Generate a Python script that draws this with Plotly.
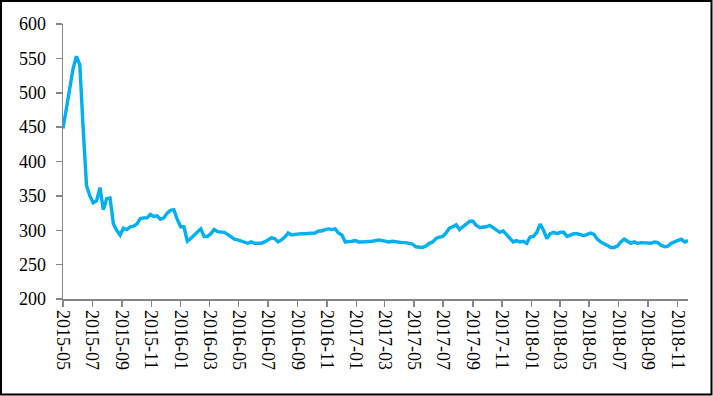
import pandas as pd
import plotly.graph_objects as go

# Weekly series starting 2015-05-01
start_date = "2015-05-01"
values = [
    448, 475, 503, 535, 553, 541, 448, 365, 350, 340,
    343, 362, 330, 346, 347, 309, 300, 293, 303, 301,
    305, 306, 309, 317, 318, 318, 323, 320, 321, 316,
    318, 325, 329, 330, 316, 305, 305, 284, 288, 293,
    298, 302, 291, 291, 295, 301, 298, 297, 297, 294,
    290, 287, 286, 284, 282, 281, 283, 281, 281, 281,
    283, 286, 289, 288, 283, 286, 290, 296, 293, 294,
    295, 295, 295, 295, 295, 296, 299, 299, 301, 302,
    301, 302, 296, 293, 283, 283, 284, 285, 283, 283,
    283, 283, 284, 285, 286, 285, 284, 283, 284, 283,
    283, 282, 282, 281, 280, 276, 275, 275, 277, 281,
    283, 288, 290, 291, 296, 303, 305, 308, 301, 305,
    309, 313, 313, 307, 304, 304, 305, 307, 304, 301,
    297, 299, 294, 288, 283, 285, 283, 284, 281, 290,
    291, 297, 309, 300, 288, 295, 297, 295, 297, 297,
    291, 293, 295, 295, 294, 292, 294, 296, 294, 287,
    283, 281, 278, 275, 275, 277, 283, 287, 284, 281,
    283, 281, 282, 282, 281, 281, 283, 282, 278, 276,
    277, 281, 283, 285, 287, 283, 285,
]
tick_dates = [
    "2015-05-01", "2015-07-01", "2015-09-01", "2015-11-01",
    "2016-01-01", "2016-03-01", "2016-05-01", "2016-07-01",
    "2016-09-01", "2016-11-01", "2017-01-01", "2017-03-01",
    "2017-05-01", "2017-07-01", "2017-09-01", "2017-11-01",
    "2018-01-01", "2018-03-01", "2018-05-01", "2018-07-01",
    "2018-09-01", "2018-11-01",
]
tick_labels = [d[:7] for d in tick_dates]
y_ticks = [200, 250, 300, 350, 400, 450, 500, 550, 600]

dates = pd.date_range(start=start_date, periods=len(values), freq="7D")

fig = go.Figure()
fig.add_trace(go.Scatter(
    x=dates, y=values, mode="lines",
    line=dict(color="#00B0F0", width=3.4),
    showlegend=False, hoverinfo="skip",
))

W, H = 713, 396
ml, mr, mt, mb = 63, 25, 24, 97
pw, ph = W - ml - mr, H - mt - mb

fig.update_layout(
    width=W, height=H,
    margin=dict(l=ml, r=mr, t=mt, b=mb, pad=0),
    paper_bgcolor="white", plot_bgcolor="white",
    font=dict(family="Liberation Serif", size=18, color="black"),
    xaxis=dict(
        type="date",
        range=[dates[0], dates[-1]],
        tickmode="array", tickvals=tick_dates, ticktext=tick_labels,
        tickangle=90,
        showgrid=False, zeroline=False,
        showline=True, linecolor="#868686", linewidth=1.5,
        ticks="outside", ticklen=6, tickwidth=1.5, tickcolor="#868686",
        tickfont=dict(family="Liberation Serif", size=18, color="black"),
    ),
    yaxis=dict(
        range=[200, 600],
        tickmode="array", tickvals=y_ticks,
        showgrid=False, zeroline=False,
        showline=True, linecolor="#868686", linewidth=1.5,
        ticks="outside", ticklen=6, tickwidth=1.5, tickcolor="#868686",
        ticklabelstandoff=6,
        tickfont=dict(family="Liberation Serif", size=18, color="black"),
    ),
    shapes=[dict(
        type="rect", xref="paper", yref="paper",
        x0=(1 - ml) / pw, x1=(W - 1.5 - ml) / pw,
        y0=-(mb - 1.5) / ph, y1=1 + (mt - 1) / ph,
        line=dict(color="black", width=2), fillcolor="rgba(0,0,0,0)",
        layer="above",
    )],
)

fig.write_html(
    "out.html",
    config={"displayModeBar": False, "staticPlot": True},
    post_script="document.body.style.margin='0';document.body.style.padding='0';",
)
